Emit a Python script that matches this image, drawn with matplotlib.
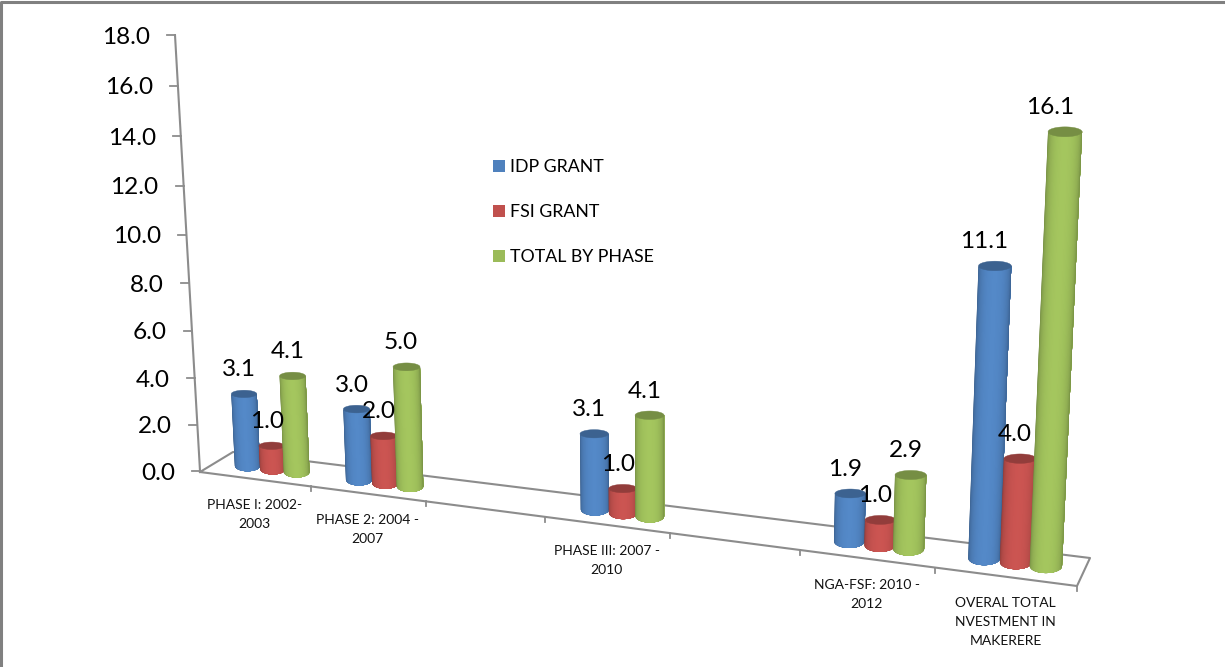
import numpy as np
import matplotlib
matplotlib.use("Agg")
import matplotlib.pyplot as plt
from matplotlib.collections import PolyCollection
from matplotlib.colors import to_rgb
from matplotlib.patches import Patch

plt.rcParams["font.family"] = ["Lato", "DejaVu Sans"]

# 7 slots on the category axis, two of them empty in the original chart
categories = ["PHASE I: 2002-\n2003", "PHASE 2: 2004 -\n2007", "", "PHASE III: 2007 -\n2010", "",
              "NGA-FSF: 2010 -\n2012", "OVERAL TOTAL\nNVESTMENT IN\nMAKERERE"]
idp_grant = [3.1, 3.0, None, 3.1, None, 1.9, 11.1]
fsi_grant = [1.0, 2.0, None, 1.0, None, 1.0, 4.0]
total_by_phase = [4.1, 5.0, None, 4.1, None, 2.9, 16.1]
series_names = ["IDP GRANT", "FSI GRANT", "TOTAL BY PHASE"]
series_colors = ["#4F81BD", "#C0504D", "#9BBB59"]
y_ticks = [0, 2, 4, 6, 8, 10, 12, 14, 16, 18]

GRAY = "#8c8c8c"
N_SLOTS = len(categories)
Y_MAX = 18.0


def fit_plane(corners):
    # homography from (slot, value) to pixels, from the 4 corners of a plane
    src = [(0, 0), (N_SLOTS, 0), (0, Y_MAX), (N_SLOTS, Y_MAX)]
    A, b = [], []
    for (s, v), (x, y) in zip(src, corners):
        A.append([s, v, 1, 0, 0, 0, -s * x, -v * x])
        A.append([0, 0, 0, s, v, 1, -s * y, -v * y])
        b += [x, y]
    return np.append(np.linalg.solve(np.array(A, float), np.array(b, float)), 1).reshape(3, 3)


def project(h, s, v):
    s, v = np.asarray(s, float), np.asarray(v, float)
    w = h[2, 0] * s + h[2, 1] * v + h[2, 2]
    return (h[0, 0] * s + h[0, 1] * v + h[0, 2]) / w, (h[1, 0] * s + h[1, 1] * v + h[1, 2]) / w


bar_plane = fit_plane([(218, 462), (1086, 571), (196, 30), (1110, 80)])
front_plane = fit_plane([(200, 472), (1077, 586), (176, 36), (1100, 85)])
back_plane = fit_plane([(233, 452), (1090, 558), (209, 20), (1113, 66)])

fig = plt.figure(figsize=(12.25, 6.67), dpi=100)
ax = fig.add_axes([0, 0, 1, 1])
ax.set_xlim(0, 1225)
ax.set_ylim(667, 0)
ax.axis("off")

# outer frame of the pasted picture
ax.plot([1, 1, 1225], [667, 2, 2], color="#808080", lw=2.2, solid_capstyle="butt")


def wall_y(v):
    return (-24.32 * v + 471) / (-0.00291 * v + 1)


def wall_x(v):
    return 200 - 25 * (471 - wall_y(v)) / 436


# value axis
vals = np.array([0, Y_MAX])
ax.plot(wall_x(vals), wall_y(vals), color=GRAY, lw=1.5)
for t in y_ticks:
    x, y = wall_x(t), wall_y(t)
    ax.plot([x - 8, x], [y, y], color=GRAY, lw=1.3)
    ax.text(x - 25, y + 2, f"{t:.1f}", ha="right", va="center", fontsize=17.6, color="black")

# floor
fx0, fy0 = project(front_plane, 0, 0)
fx1, fy1 = project(front_plane, N_SLOTS, 0)
bx0, by0 = project(back_plane, 0, 0)
bx1, by1 = project(back_plane, N_SLOTS, 0)
ax.plot([fx0, fx1, bx1, bx0, fx0], [fy0, fy1, by1, by0, fy0], color=GRAY, lw=1.5)
for s in range(1, N_SLOTS + 1):
    x, y = project(front_plane, s, 0)
    ax.plot([x, x], [y, y + 5], color=GRAY, lw=1.3)

# category labels
for i, label in enumerate(categories):
    x, y = project(front_plane, i + 0.5, 0)
    ax.text(x, y + 20, label, ha="center", va="top", fontsize=10, linespacing=1.72, color="#111111")


def shaded(color, k):
    r = np.array(to_rgb(color)) * k
    return tuple(np.clip(r, 0, 1))


def draw_cylinder(s, value, color):
    half = 0.115
    x0, y0 = project(bar_plane, s, 0)
    x1, y1 = project(bar_plane, s, value)
    hw0 = project(bar_plane, s + half, 0)[0] - x0
    hw1 = project(bar_plane, s + half, value)[0] - x1
    hh0, hh1 = hw0 * 0.44, hw1 * 0.29
    theta = np.linspace(np.pi, 0, 41)
    polys, colors = [], []
    # each strip runs on to the right edge, the next one paints over it, so no seams show
    for a, b in zip(theta[:-1], theta[1:]):
        arc = np.linspace(a, 0, 12)
        top = list(zip(x1 + hw1 * np.cos(arc), y1 + hh1 * np.sin(arc)))
        bottom = list(zip(x0 + hw0 * np.cos(arc), y0 + hh0 * np.sin(arc)))
        polys.append(top + bottom[::-1])
        mid = (a + b) / 2
        colors.append(shaded(color, 0.68 + 0.38 * np.sin(mid) ** 0.7))
    ax.add_collection(PolyCollection(polys, facecolors=colors, edgecolors="none", zorder=3))
    t = np.linspace(0, 2 * np.pi, 60)
    ax.fill(x1 + hw1 * np.cos(t), y1 + hh1 * np.sin(t), color=shaded(color, 0.76), lw=0.3, zorder=3)
    return x1, y1


labels = []
for offset, values, color in zip([-0.23, 0.0, 0.215], [idp_grant, fsi_grant, total_by_phase], series_colors):
    for i, value in enumerate(values):
        if value is None:
            continue
        x, y = draw_cylinder(i + 0.5 + offset, value, color)
        labels.append((x - 5 - 0.8 * max(0, value - 4), y - 24, value))

for x, y, value in labels:
    ax.text(x, y, f"{value:.1f}", ha="center", va="center", fontsize=17.6, color="black", zorder=5)

handles = [Patch(facecolor=c, edgecolor="none") for c in series_colors]
ax.legend(handles, series_names, loc="upper left", bbox_to_anchor=(493, 159), bbox_transform=ax.transData,
          frameon=False, fontsize=12.8, handlelength=0.68, handleheight=0.68, handletextpad=0.28,
          labelspacing=1.64, borderpad=0, borderaxespad=0)

fig.savefig("out.png", dpi=100)
